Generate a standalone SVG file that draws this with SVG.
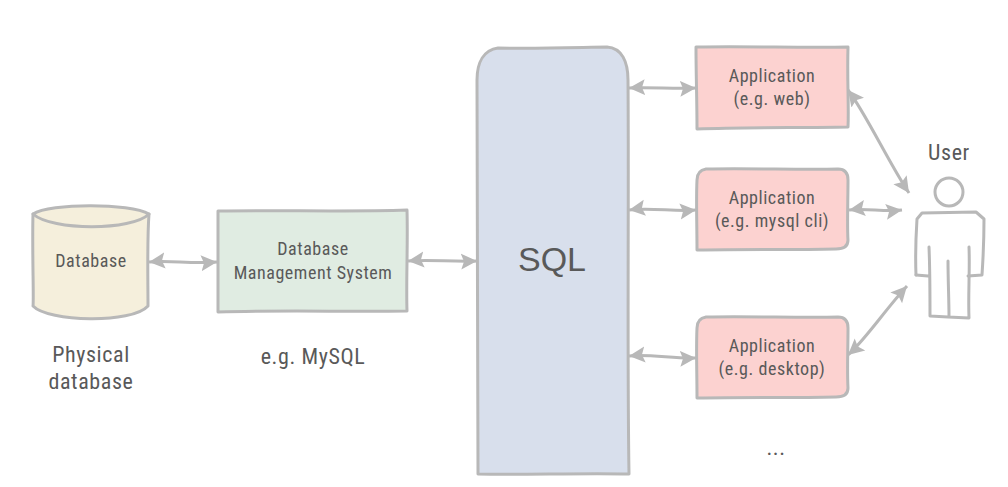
<svg xmlns="http://www.w3.org/2000/svg" width="1008" height="487" viewBox="0 0 1008 487">
<style>
.n{stroke:#b8b8b8;stroke-width:3;stroke-linejoin:round;stroke-linecap:round}
.l{fill:none;stroke:#b8b8b8;stroke-width:3;stroke-linecap:round;stroke-linejoin:round}
.c{fill:none;stroke:#b8b8b8;stroke-width:3;marker-start:url(#a);marker-end:url(#a)}
text{font-family:Roboto,"Liberation Sans",sans-serif;font-stretch:75%;fill:#595959;text-anchor:middle;font-size:18px;letter-spacing:.55px}
.b{font-size:22px;letter-spacing:.6px}
</style>
<defs><marker id="a" markerUnits="userSpaceOnUse" markerWidth="18" markerHeight="18" refX="16" refY="9" orient="auto-start-reverse"><path d="M0 1 16 9 0 17 3 9Z" fill="#b8b8b8"/></marker></defs>
<rect width="1008" height="487" fill="#fff"/>
<g id="connectors">
<path class="c" d="M149 262C170 260 190 264 217 262"/>
<path class="c" d="M408 261C430 259 450 262 477 261"/>
<path class="c" d="M629 88C650 87 675 89 696 88"/>
<path class="c" d="M629 210C650 207 675 212 696 210"/>
<path class="c" d="M629 356C650 354 675 359 696 358"/>
<path class="c" d="M849 210C865 208 885 212 902 210"/>
<path class="c" d="M848 90C865 112 890 165 909 193"/>
<path class="c" d="M848 355C865 340 885 310 907 286"/>
</g>
<g id="database">
<path class="n" fill="#f5efdc" d="M33 214C32 250 34 300 33 306C48 322 132 324 148 306C148 280 147 240 149 214C130 203 50 203 33 214Z"/>
<path class="l" d="M33 214C52 231 132 231 149 214"/>
<text x="91" y="267">Database</text>
</g>
<g id="dbms">
<path class="n" fill="#e0ece2" d="M218 211C280 210 350 212 407 210C408 245 406 280 407 311C350 312 280 310 218 312Z"/>
<text x="313" y="255">Database</text><text x="313" y="279">Management System</text>
</g>
<g id="sql">
<path class="n" fill="#d8dfec" d="M498 48C540 49 590 47 607 47C622 48 628 62 628 80C629 200 627 350 629 474C580 473 520 475 478 474C477 350 478 200 477 80C477 62 484 50 498 48Z"/>
<text x="552" y="271" style="font-family:'Liberation Sans',sans-serif;font-size:34px;letter-spacing:0">SQL</text>
</g>
<g id="app-web">
<path class="n" fill="#fcd2d0" d="M696 47C750 46 800 48 848 47C847 80 849 105 848 127C800 128 750 127 697 129C697 100 696 75 696 47Z"/>
<text x="772" y="82">Application</text><text x="772" y="105">(e.g. web)</text>
</g>
<g id="app-cli">
<path class="n" fill="#fcd2d0" d="M706 169C750 168 800 170 838 169C845 169 848 173 848 180C848 200 847 225 848 240C848 247 843 249 836 249C790 250 750 249 697 250C697 225 696 200 697 180C697 173 700 170 706 169Z"/>
<text x="772" y="204">Application</text><text x="772" y="227">(e.g. mysql cli)</text>
</g>
<g id="app-desktop">
<path class="n" fill="#fcd2d0" d="M706 317C750 316 800 318 838 317C845 317 848 321 848 328C848 350 847 370 848 388C848 395 843 397 836 397C790 398 750 397 697 398C697 370 696 350 697 328C697 321 700 318 706 317Z"/>
<text x="772" y="352">Application</text><text x="772" y="375">(e.g. desktop)</text>
</g>
<g id="user">
<circle class="l" cx="949" cy="192" r="14"/>
<path class="l" d="M916 275C915 250 916 235 917 219L922 213L976 212L984 219C984 240 983 260 982 275L968 276"/>
<path class="l" d="M916 275L928 276M929 247C930 270 930 295 930 316L948 317L969 318C968 295 970 270 969 247M948 261C948 280 949 300 949 317"/>
<text x="949" y="160" class="b">User</text>
</g>
<g id="labels">
<text x="91" y="362" class="b">Physical</text><text x="91" y="389" class="b">database</text>
<text x="313" y="364" class="b">e.g. MySQL</text>
<text x="776" y="455" class="b">...</text>
</g>
</svg>
